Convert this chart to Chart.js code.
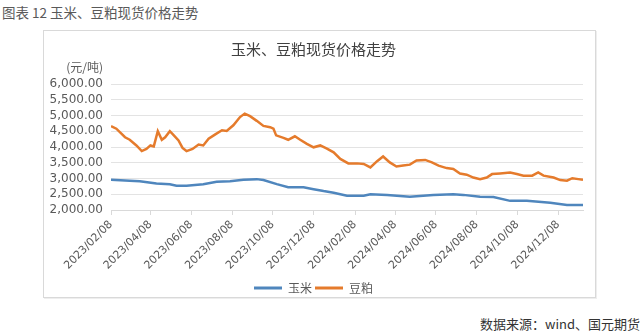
<!DOCTYPE html>
<html>
<head>
<meta charset="utf-8">
<script src="https://cdn.jsdelivr.net/npm/chart.js@4.4.1/dist/chart.umd.min.js"></script>
<style>
  body { margin: 0; background: #fff; width: 644px; height: 335px; position: relative; overflow: hidden; }
  .head { position: absolute; left: 2px; top: 2px; font: 13.5px "Noto Sans CJK SC", sans-serif; color: #595959; white-space: nowrap; }
  .foot { position: absolute; right: 4px; top: 314px; font: 13px "Noto Sans CJK SC", sans-serif; color: #333; white-space: nowrap; }
  .box { position: absolute; left: 43px; top: 30px; width: 553px; height: 268px; box-sizing: border-box; border: 1px solid #d9d9d9; box-shadow: 1px 1px 0 #eeeeee; background: #fff; }
  .box canvas { position: absolute; left: 0; top: 0; }
</style>
</head>
<body>
<div class="head">图表 12 玉米、豆粕现货价格走势</div>
<div class="box"><canvas id="c" width="551" height="273"></canvas></div>
<div class="foot">数据来源：wind、国元期货</div>
<script>
// values
var startDate = '2023/02/08';
var endDate = '2025/01/14';
var tickLabels = ['2023/02/08', '2023/04/08', '2023/06/08', '2023/08/08', '2023/10/08', '2023/12/08',
  '2024/02/08', '2024/04/08', '2024/06/08', '2024/08/08', '2024/10/08', '2024/12/08'];

var cornDates = ['2023/02/08', '2023/03/08', '2023/03/23', '2023/04/17', '2023/05/07', '2023/05/17',
  '2023/06/01', '2023/06/26', '2023/07/16', '2023/08/05', '2023/08/25', '2023/09/14', '2023/09/24',
  '2023/10/14', '2023/10/31', '2023/11/23', '2023/12/08', '2023/12/23', '2024/01/07', '2024/01/27',
  '2024/02/21', '2024/03/02', '2024/03/27', '2024/04/30', '2024/06/04', '2024/07/04', '2024/07/19',
  '2024/08/13', '2024/09/02', '2024/09/27', '2024/10/22', '2024/11/26', '2024/12/21', '2025/01/14'];
var cornPrices = [2960, 2930, 2910, 2840, 2820, 2770,
  2770, 2820, 2900, 2910, 2960, 2980, 2950,
  2820, 2720, 2720, 2660, 2600, 2550, 2450,
  2450, 2500, 2480, 2420, 2480, 2500, 2480,
  2420, 2410, 2290, 2290, 2230, 2160, 2160];

var mealDates = ['2023/02/08', '2023/02/16', '2023/03/01', '2023/03/08', '2023/03/18', '2023/03/26',
  '2023/04/02', '2023/04/08', '2023/04/13', '2023/04/19', '2023/04/25', '2023/04/30', '2023/05/07',
  '2023/05/13', '2023/05/20', '2023/05/26', '2023/06/01', '2023/06/10', '2023/06/19', '2023/06/26',
  '2023/07/04', '2023/07/14', '2023/07/24', '2023/07/31', '2023/08/10', '2023/08/20', '2023/08/27',
  '2023/09/04', '2023/09/14', '2023/09/24', '2023/10/04', '2023/10/09', '2023/10/13', '2023/10/24',
  '2023/10/31', '2023/11/10', '2023/11/18', '2023/11/28', '2023/12/08', '2023/12/18', '2023/12/28',
  '2024/01/07', '2024/01/17', '2024/01/29', '2024/02/11', '2024/02/21', '2024/03/02', '2024/03/12',
  '2024/03/21', '2024/03/31', '2024/04/10', '2024/04/20', '2024/04/30', '2024/05/10', '2024/05/23',
  '2024/06/02', '2024/06/12', '2024/06/24', '2024/07/04', '2024/07/14', '2024/07/24', '2024/08/03',
  '2024/08/13', '2024/08/23', '2024/08/31', '2024/09/12', '2024/09/27', '2024/10/07', '2024/10/17',
  '2024/10/30', '2024/11/08', '2024/11/16', '2024/12/01', '2024/12/11', '2024/12/21', '2024/12/29',
  '2025/01/07', '2025/01/14'];
var mealPrices = [4660, 4580, 4310, 4230, 4050, 3870,
  3940, 4050, 4020, 4500, 4230, 4310, 4500,
  4370, 4210, 3970, 3870, 3940, 4080, 4050,
  4260, 4400, 4530, 4510, 4690, 4950, 5060,
  4980, 4830, 4670, 4630, 4580, 4370, 4290,
  4230, 4340, 4230, 4100, 3990, 4050, 3950,
  3830, 3620, 3480, 3480, 3460, 3350, 3550,
  3700, 3510, 3380, 3410, 3440, 3570, 3590,
  3510, 3410, 3330, 3300, 3160, 3120, 3030,
  2980, 3030, 3140, 3160, 3190, 3140, 3090,
  3090, 3190, 3090, 3030, 2950, 2930, 3010,
  2980, 2960];

var yMin = 2000, yMax = 6000, yStep = 500;

function dayOf(s) {
  var p = s.split('/');
  var b = startDate.split('/');
  return (Date.UTC(+p[0], p[1] - 1, +p[2]) - Date.UTC(+b[0], b[1] - 1, +b[2])) / 86400000;
}
function points(dates, vals) {
  return dates.map(function (d, i) { return { x: dayOf(d), y: vals[i] }; });
}
var tickDays = tickLabels.map(dayOf);

var unitLabel = {
  id: 'unitLabel',
  afterDraw: function (chart) {
    var ctx = chart.ctx, a = chart.chartArea;
    ctx.save();
    ctx.font = '12px "Noto Sans CJK SC"';
    ctx.fillStyle = '#595959';
    ctx.textAlign = 'right';
    ctx.textBaseline = 'middle';
    ctx.fillText('(元/吨)', a.left - 8, a.top - 17);
    ctx.restore();
  }
};

var blue = '#4f86bd';
var orange = '#e57b2c';

new Chart(document.getElementById('c').getContext('2d'), {
  type: 'line',
  data: {
    datasets: [
      { label: '玉米', data: points(cornDates, cornPrices), borderColor: blue, backgroundColor: blue,
        borderWidth: 2.5, pointRadius: 0, tension: 0 },
      { label: '豆粕', data: points(mealDates, mealPrices), borderColor: orange, backgroundColor: orange,
        borderWidth: 2.5, pointRadius: 0, tension: 0 }
    ]
  },
  options: {
    responsive: false,
    animation: false,
    devicePixelRatio: 1,
    layout: { padding: { left: 0, right: 12, top: 0, bottom: 0 } },
    plugins: {
      title: {
        display: true,
        text: '玉米、豆粕现货价格走势',
        color: '#404040',
        font: { family: '"Noto Sans CJK SC"', size: 15, weight: 'normal' },
        padding: { top: 9, bottom: 26 }
      },
      legend: {
        position: 'bottom',
        labels: {
          color: '#595959',
          font: { family: '"Noto Sans CJK SC"', size: 12 },
          boxWidth: 28,
          boxHeight: 3,
          padding: 3,
          generateLabels: function (chart) {
            return Chart.defaults.plugins.legend.labels.generateLabels(chart).map(function (l) {
              l.lineWidth = 0;
              return l;
            });
          }
        }
      },
      tooltip: { enabled: false }
    },
    scales: {
      x: {
        type: 'linear',
        min: 0,
        max: dayOf(endDate),
        afterBuildTicks: function (axis) {
          axis.ticks = tickDays.map(function (v) { return { value: v }; });
        },
        afterFit: function (axis) { axis.height = 69; },
        ticks: {
          autoSkip: false,
          minRotation: 45,
          maxRotation: 45,
          padding: 3,
          color: '#595959',
          font: { family: '"DejaVu Sans"', size: 11 },
          callback: function (v) { return tickLabels[tickDays.indexOf(v)]; }
        },
        grid: { drawOnChartArea: false, drawTicks: true, tickLength: 5, color: '#d9d9d9' },
        border: { display: true, color: '#d9d9d9' }
      },
      y: {
        min: yMin,
        max: yMax,
        afterFit: function (axis) { axis.width = 67; },
        ticks: {
          stepSize: yStep,
          autoSkip: false,
          padding: 8,
          color: '#595959',
          font: { family: '"DejaVu Sans"', size: 12 },
          callback: function (v) {
            return v.toLocaleString('en-US', { minimumFractionDigits: 2, maximumFractionDigits: 2 });
          }
        },
        grid: { color: '#e3e3e3', drawTicks: false },
        border: { display: false }
      }
    }
  },
  plugins: [unitLabel]
});
</script>
</body>
</html>
